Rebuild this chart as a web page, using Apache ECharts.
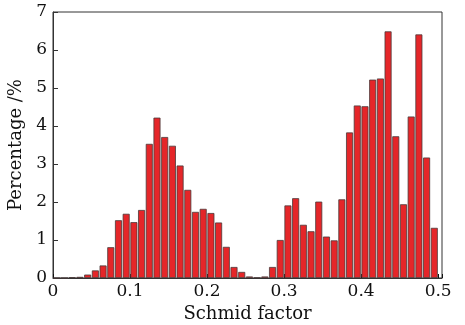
<!DOCTYPE html>
<html>
<head>
<meta charset="utf-8">
<script src="https://cdn.jsdelivr.net/npm/echarts@6/dist/echarts.min.js"></script>
<style>
    html, body { margin: 0; padding: 0; background: #fff; }
    #chart { width: 465px; height: 325px; }
</style>
</head>
<body>
<div id="chart"></div>
<script>
// bin centres (Schmid factor, bin width 0.01)
var binCenters = [0.005, 0.015, 0.025, 0.035, 0.045, 0.055, 0.065, 0.075, 0.085, 0.095,
    0.105, 0.115, 0.125, 0.135, 0.145, 0.155, 0.165, 0.175, 0.185, 0.195,
    0.205, 0.215, 0.225, 0.235, 0.245, 0.255, 0.265, 0.275, 0.285, 0.295,
    0.305, 0.315, 0.325, 0.335, 0.345, 0.355, 0.365, 0.375, 0.385, 0.395,
    0.405, 0.415, 0.425, 0.435, 0.445, 0.455, 0.465, 0.475, 0.485, 0.495];
// percentage in each bin
var percentages = [0, 0, 0.02, 0.03, 0.09, 0.2, 0.33, 0.81, 1.52, 1.69,
    1.47, 1.79, 3.53, 4.22, 3.71, 3.48, 2.96, 2.32, 1.74, 1.82,
    1.71, 1.46, 0.82, 0.29, 0.16, 0.04, 0.01, 0.04, 0.29, 1.0,
    1.91, 2.1, 1.4, 1.23, 2.01, 1.09, 0.99, 2.07, 3.83, 4.54,
    4.52, 5.22, 5.25, 6.49, 3.73, 1.94, 4.25, 6.41, 3.17, 1.32];
var xTicks = [0, 0.1, 0.2, 0.3, 0.4, 0.5];
var yTicks = [0, 1, 2, 3, 4, 5, 6, 7];

var myChart = echarts.init(document.getElementById("chart"));
var font = "DejaVu Serif";

var barData = binCenters.map(function (c, i) {
    return [c, percentages[i]];
});

var option = {
    animation: false,
    grid: {
        left: 53, right: 23, top: 12, bottom: 47,
        outerBoundsMode: 'none',
        containLabel: false,
        show: true,
        borderColor: '#333',
        borderWidth: 1
    },
    xAxis: {
        type: 'value',
        min: 0,
        max: 0.505,
        interval: 0.1,
        name: 'Schmid factor',
        nameLocation: 'middle',
        nameGap: 26,
        nameTextStyle: { fontFamily: font, fontSize: 18, color: '#111' },
        axisLine: { show: true, lineStyle: { color: '#333' } },
        axisTick: { show: true, inside: true, length: 4, lineStyle: { color: '#111' } },
        splitLine: { show: false },
        axisLabel: {
            fontFamily: font, fontSize: 17, color: '#111', margin: 5,
            formatter: function (v) {
                var r = Math.round(v * 10) / 10;
                return xTicks.indexOf(r) > -1 && Math.abs(r - v) < 1e-6 ? String(r) : '';
            }
        }
    },
    yAxis: {
        type: 'value',
        min: 0,
        max: 7,
        interval: 1,
        name: 'Percentage /%',
        nameLocation: 'middle',
        nameGap: 24,
        nameTextStyle: { fontFamily: font, fontSize: 18, color: '#111' },
        axisLine: { show: true, lineStyle: { color: '#333' } },
        axisTick: { show: true, inside: true, length: 5, lineStyle: { color: '#333' } },
        splitLine: { show: false },
        axisLabel: {
            fontFamily: font, fontSize: 17, color: '#111', margin: 6,
            formatter: function (v) {
                return yTicks.indexOf(v) > -1 ? String(v) : '';
            }
        }
    },
    series: [{
        type: 'bar',
        data: barData,
        barWidth: 7,
        itemStyle: {
            color: '#e52629',
            borderColor: '#4a3a3a',
            borderWidth: 0.8
        }
    }]
};

myChart.setOption(option);
window.addEventListener("resize", function () {
    myChart.resize();
});
</script>
</body>
</html>
